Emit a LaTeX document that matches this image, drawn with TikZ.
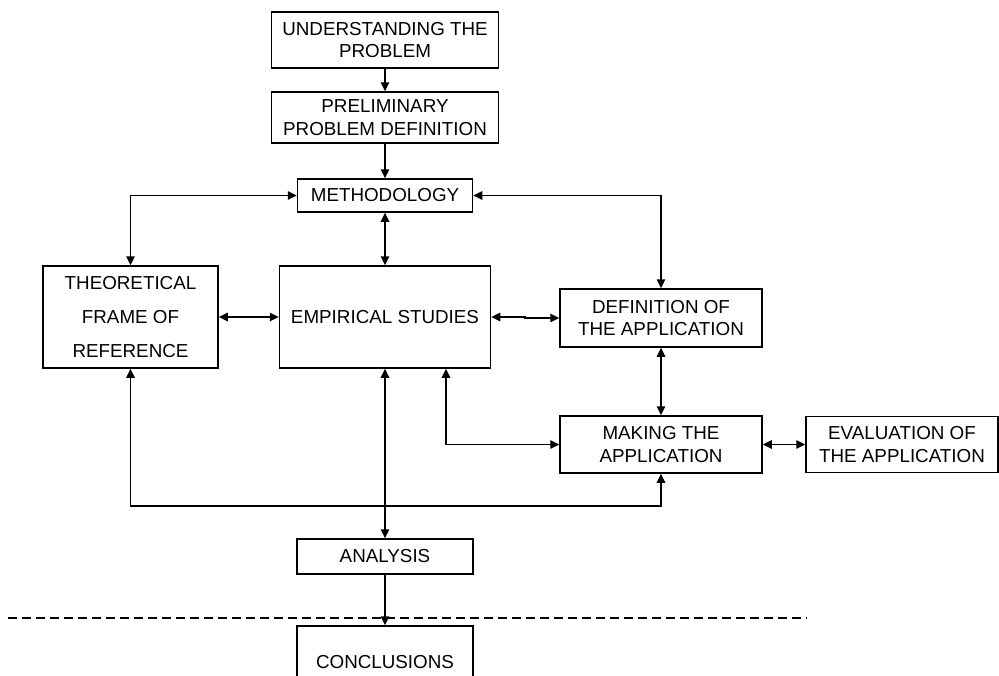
\documentclass[tikz,border=0pt]{standalone}
\usepackage{fontspec}
\setmainfont{Liberation Sans}
\usetikzlibrary{arrows.meta}
\begin{document}
\begin{tikzpicture}[x=0.5pt,y=-0.5pt,
  box/.style={draw, line width=0.75pt, inner sep=0pt, align=center,
    font={\fontsize{9.4}{11.25}\selectfont}},
  link/.style={line width=0.85pt},
  >={Triangle[length=4.5pt,width=4.2pt]}]
\clip (0,0) rectangle (999,675);
\fill[white] (0,0) rectangle (999,675);

% process boxes
\node[box, minimum width=113.5pt, minimum height=28pt]   (und)  at (385,40)    {UNDERSTANDING THE\\PROBLEM};
\node[box, minimum width=113.5pt, minimum height=25.5pt] (pre)  at (385,117.5) {PRELIMINARY\\PROBLEM DEFINITION};
\node[box, minimum width=87.5pt, minimum height=16.5pt]  (meth) at (385,195.5) {METHODOLOGY};
\node[box, minimum width=87.5pt, minimum height=51pt, font={\fontsize{9.4}{17}\selectfont}]
                                                         (theo) at (130.5,317) {THEORETICAL\\FRAME OF\\REFERENCE};
\node[box, minimum width=105.5pt, minimum height=51pt]   (emp)  at (385,317)   {EMPIRICAL STUDIES};
\node[box, minimum width=101pt, minimum height=29pt]     (def)  at (661,318)   {DEFINITION OF\\THE APPLICATION};
\node[box, minimum width=101pt, minimum height=28.5pt]   (mak)  at (661,444.5) {MAKING THE\\APPLICATION};
\node[box, minimum width=96pt, minimum height=28pt]      (eva)  at (902,444.5) {EVALUATION OF\\THE APPLICATION};
\node[box, minimum width=88pt, minimum height=17.5pt]    (ana)  at (385,556.5) {ANALYSIS};
\node[box, minimum width=88pt, minimum height=36pt]      (con)  at (385,662)   {CONCLUSIONS};

% helper coordinates for routed connectors
\coordinate (ea) at (446,444.5);
\coordinate (lb) at (0,506);
\coordinate (jog) at (525,317);
\coordinate (dl) at (8,618);
\coordinate (dr) at (807,618);

% connectors
\draw[link,->] (und) -- (pre);
\draw[link,->] (pre) -- (meth);
\draw[link,<->] (theo.north) |- (meth.west);
\draw[link,<->] (meth.east) -| (def.north);
\draw[link,<->] (meth) -- (emp);
\draw[link,<->] (theo) -- (emp);
\draw[link,<->] (emp.east) -- (jog) |- (def.west);
\draw[link,<->] (def) -- (mak);
\draw[link,<->] (mak) -- (eva);
\draw[link,<->] (emp.south -| ea) |- (mak.west);
\draw[link,<->] (theo.south) -- (theo.south |- lb) -- (mak.south |- lb) -- (mak.south);
\draw[link,<->] (emp) -- (ana);
\draw[link,->] (ana) -- (con);

% separator
\draw[line width=0.7pt, dash pattern=on 4.5pt off 2.5pt] (dl) -- (dr);
\end{tikzpicture}
\end{document}
